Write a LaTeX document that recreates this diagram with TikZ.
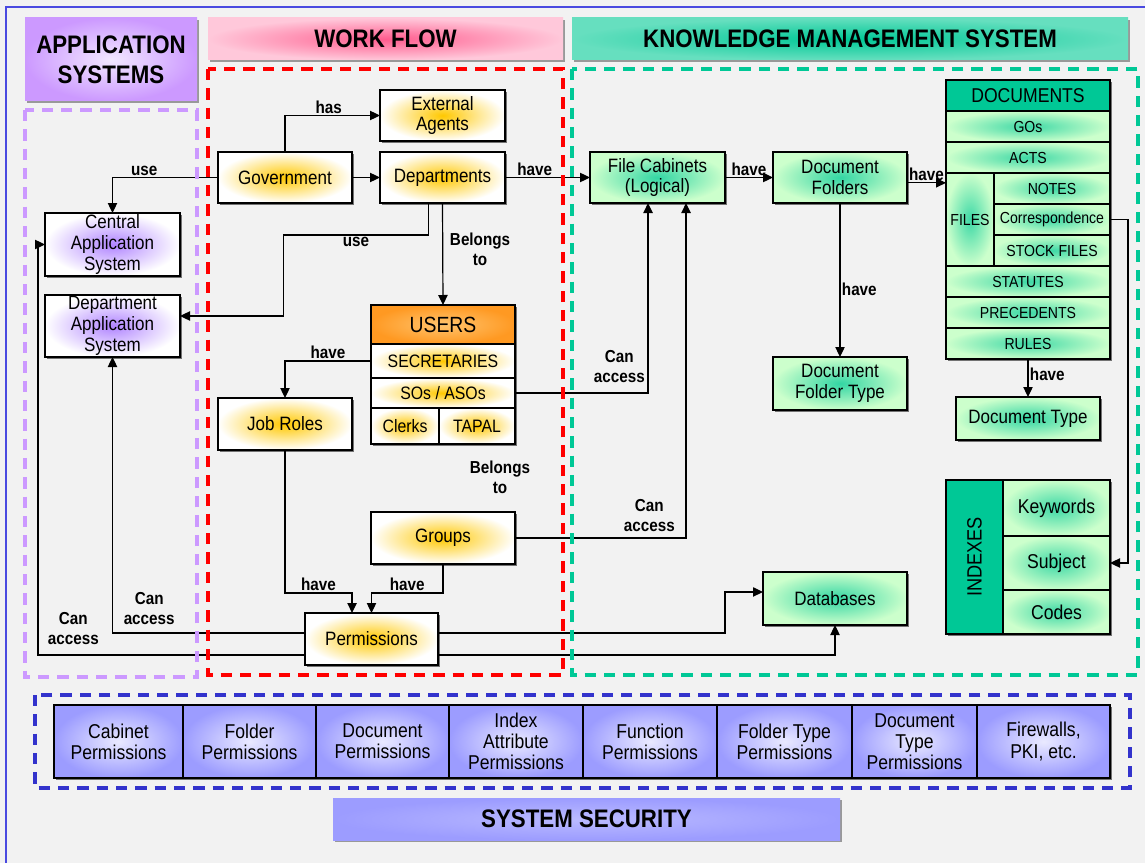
\documentclass[tikz,border=0pt]{standalone}
\usepackage{fontspec}
\setmainfont{Liberation Sans}[FakeStretch=0.88]
\usetikzlibrary{shadows,arrows.meta}

\definecolor{paper}{HTML}{F2F2F2}
\definecolor{frameBlue}{HTML}{4A4AE0}
\definecolor{appPurple}{HTML}{CC99FF}
\definecolor{appCore}{HTML}{B084FF}
\definecolor{appPale}{HTML}{F2E8FF}
\definecolor{wfRed}{HTML}{FF0000}
\definecolor{pinkHead}{HTML}{FFC8DA}
\definecolor{pinkCore}{HTML}{FF5C8E}
\definecolor{gold}{HTML}{FFC800}
\definecolor{usersOrange}{HTML}{FF9922}
\definecolor{usersCore}{HTML}{FFC46E}
\definecolor{kmTeal}{HTML}{00C896}
\definecolor{kmLight}{HTML}{66DFBF}
\definecolor{paleGreen}{HTML}{CCFFCC}
\definecolor{secBlue}{HTML}{3333CC}
\definecolor{lavender}{HTML}{9C9CFF}
\definecolor{lavCore}{HTML}{BABAFF}

\tikzset{
    wh/.style 2 args={minimum width=#1*0.75pt, minimum height=#2*0.75pt},
    boxshadow/.style={drop shadow={shadow xshift=1.5pt, shadow yshift=-1.5pt, fill=black!55, opacity=1}},
    cell/.style={draw=black, line width=0.9pt, inner sep=0pt, outer sep=0pt, align=center, anchor=north west},
    body/.style={font=\fontsize{14.5}{15.5}\selectfont},
    wf box/.style={cell, body, boxshadow, inner color=gold, outer color=white},
    user row/.style={cell, font=\fontsize{13.5}{14.5}\selectfont, inner color=gold, outer color=white},
    users head/.style={cell, font=\fontsize{16.5}{17}\selectfont, inner color=usersCore, outer color=usersOrange},
    app box/.style={cell, body, boxshadow, inner color=appCore, outer color=white},
    km box/.style={cell, body, boxshadow, inner color=kmTeal!75!paleGreen, outer color=paleGreen},
    doc cell/.style={cell, font=\fontsize{12}{13}\selectfont, inner color=kmTeal!70!paleGreen, outer color=paleGreen},
    doc head/.style={cell, font=\fontsize{15}{16}\selectfont, fill=kmTeal},
    idx cell/.style={cell, font=\fontsize{15}{16}\selectfont, inner color=kmTeal!70!paleGreen, outer color=paleGreen},
    sec box/.style={cell, font=\fontsize{15}{15.8}\selectfont, boxshadow, inner color=lavender!22!white, outer color=lavender},
    head/.style={inner sep=0pt, outer sep=0pt, align=center, anchor=north west,
        font=\bfseries\fontsize{19}{22.5}\selectfont,
        drop shadow={shadow xshift=1.5pt, shadow yshift=-1.5pt, fill=black!40, opacity=1}},
    lbl/.style={font=\bfseries\fontsize{13}{15}\selectfont, align=center, inner sep=1pt},
    link/.style={line width=0.9pt, -{Triangle[length=7.5pt, width=7pt]}},
    wire/.style={line width=0.9pt},
    zone/.style={line width=3pt, dash pattern=on 8.5pt off 6pt},
}

\begin{document}
\begin{tikzpicture}[x=0.75pt, y=-0.75pt]
\useasboundingbox (0,0) rectangle (1145,863);
\fill[paper] (0,0) rectangle (1145,863);
\draw[frameBlue, line width=0.8pt] (6,870) -- (6,7) -- (1150,7);

% headers
\node[head, inner color=appPale, outer color=appPurple, wh={172}{83}] (appHead) at (25,18) {APPLICATION\\SYSTEMS};
\node[head, inner color=pinkCore, outer color=pinkHead, wh={355}{42}] (wfHead) at (208,18) {WORK FLOW};
\node[head, inner color=kmTeal, outer color=kmLight, wh={556}{42}] (kmHead) at (572,18) {KNOWLEDGE MANAGEMENT SYSTEM};
\node[head, inner color=lavCore, outer color=lavender, wh={507}{42}] (secHead) at (333,798) {SYSTEM SECURITY};

% application systems
\node[app box, wh={135}{63}] (cas) at (45,213) {Central\\Application\\System};
\node[app box, wh={135}{62}] (das) at (45,295) {Department\\Application\\System};

% work flow
\node[wf box, wh={134}{51}] (gov) at (218,152) {Government};
\node[wf box, wh={125}{51}] (ext) at (380,90) {External\\Agents};
\node[wf box, wh={125}{51}] (dept) at (380,152) {Departments};
\node[wf box, wh={134}{52}] (jobs) at (218,398) {Job Roles};
\node[wf box, wh={144}{52}] (grp) at (371,512) {Groups};
\node[wf box, wh={133}{52}] (perm) at (305,613) {Permissions};

\fill[black!55] (373,307) rectangle (517,446);
\node[users head, wh={144}{39}] (users) at (371,305) {USERS};
\node[user row, wh={144}{34}] (secr) at (371,344) {SECRETARIES};
\node[user row, wh={144}{30}] (sos) at (371,378) {SOs / ASOs};
\node[user row, wh={68}{36}] (clerks) at (371,408) {Clerks};
\node[user row, wh={76}{36}] (tapal) at (439,408) {TAPAL};
\node[lbl] (belongsGrp) at (500,477) {Belongs\\to};

% knowledge management
\node[km box, wh={135}{51}] (fc) at (590,152) {File Cabinets\\(Logical)};
\node[km box, wh={134}{51}] (fold) at (773,152) {Document\\Folders};
\node[km box, wh={134}{53}] (ftype) at (773,357) {Document\\Folder Type};
\node[km box, wh={144}{53}] (db) at (763,572) {Databases};
\node[km box, wh={144}{43}] (dtype) at (956,397) {Document Type};

\fill[black!55] (948,82) rectangle (1112,361);
\node[doc head, wh={164}{31}] (docs) at (946,80) {DOCUMENTS};
\foreach \name/\y/\txt in {gos/111/GOs, acts/142/ACTS, stat/266/STATUTES, prec/297/PRECEDENTS, rules/328/RULES}
    \node[doc cell, wh={164}{31}] (\name) at (946,\y) {\txt};
\node[doc cell, wh={48}{93}] (files) at (946,173) {FILES};
\foreach \name/\y/\txt in {notes/173/NOTES, corr/204/Correspondence, stock/235/STOCK FILES}
    \node[doc cell, wh={116}{31}] (\name) at (994,\y) {\txt};

\fill[black!55] (948,482) rectangle (1112,636);
\node[doc head, wh={57}{154}] (idx) at (946,480) {};
\node[rotate=90, font=\fontsize{15.5}{16}\selectfont] (idxText) at (idx.center) {INDEXES};
\foreach \name/\y/\h/\txt in {keyw/480/56/Keywords, subj/536/54/Subject, codes/590/44/Codes}
    \node[idx cell, wh={107}{\h}] (\name) at (1003,\y) {\txt};

% system security
\foreach \x/\w/\txt [count=\i] in {54/129/{Cabinet\\Permissions}, 183/133/{Folder\\Permissions},
        316/133/{Document\\Permissions}, 449/134/{Index\\Attribute\\Permissions},
        583/134/{Function\\Permissions}, 717/135/{Folder Type\\Permissions},
        852/125/{Document\\Type\\Permissions}, 977/133/{Firewalls,\\PKI, etc.}}
    \node[sec box, wh={\w}{73}] (sec\i) at (\x,705) {\txt};

% connectors
\draw[link] (gov.north) |- node[lbl, above, pos=0.73] {has} (ext.west);
\draw[link] (gov) -- (dept);
\draw[link] (gov.west) -| node[lbl, above, pos=0.35] {use} (cas.north);
\draw[link] ([xshift=-10.5pt]dept.south) -- ++(0,32) -- ++(-145,0) node[lbl, below, midway] {use}
    |- ([yshift=7.5pt]das.east);
\draw[link] (dept.south) -- node[lbl, right=4pt, pos=0.45] {Belongs\\to} (users.north);
\draw[link] (secr.west) -| node[lbl, above, pos=0.25] {have} (jobs.north);
\draw[link] (sos.east) -| node[lbl, anchor=south east, pos=0.5, xshift=-1pt, yshift=6pt] {Can\\access}
    ([xshift=-7.1pt]fc.south);
\draw[link] (grp.east) -| node[lbl, anchor=south east, pos=0.5, xshift=-7pt, yshift=3pt] {Can\\access}
    ([xshift=21.4pt]fc.south);
\draw[link] (jobs.south) -- ++(0,143) -| node[lbl, above, pos=0.25] {have} ([xshift=-14.6pt]perm.north);
\draw[link] (grp.south) -- ++(0,29) -| node[lbl, above, pos=0.25] {have} (perm.north);
\draw[link] ([yshift=4.5pt]perm.east) -- ++(287,0) |- ([yshift=4.9pt]db.west);
\draw[link] ([yshift=-12pt]perm.east) -| (db.south);
\draw[link] ([yshift=4.5pt]perm.west) -| node[lbl, anchor=south west, pos=0.5, xshift=7pt, yshift=5pt] {Can\\access}
    (das.south);
\draw[link] ([yshift=-12pt]perm.west) -| node[lbl, anchor=south west, pos=0.5, xshift=6pt, yshift=6pt] {Can\\access}
    ([xshift=-5.25pt]cas.west) -- (cas.west);
\draw[link] (dept) -- node[lbl, above, pos=0.35] {have} (fc);
\draw[link] (fc) -- node[lbl, above] {have} (fold);
\draw[link] ([yshift=-4pt]fold.east) -- node[lbl, above] {have} ([yshift=-4pt]fold.east -| files.west);
\draw[link] (fold.south) -- node[lbl, right, pos=0.56] {have} (ftype.north);
\draw[link] (rules.south) -- node[lbl, right, pos=0.4] {have} (dtype.north);
\draw[link] (corr.east) -- ++(18,0) |- (subj.east);

% zones
\draw[zone, appPurple] (25,110) rectangle (197,677);
\draw[zone, wfRed] (208,69) rectangle (563,675);
\draw[zone, kmTeal] (572,69) rectangle (1138,675);
\draw[zone, secBlue] (35,695) rectangle (1130,788);
\end{tikzpicture}
\end{document}
